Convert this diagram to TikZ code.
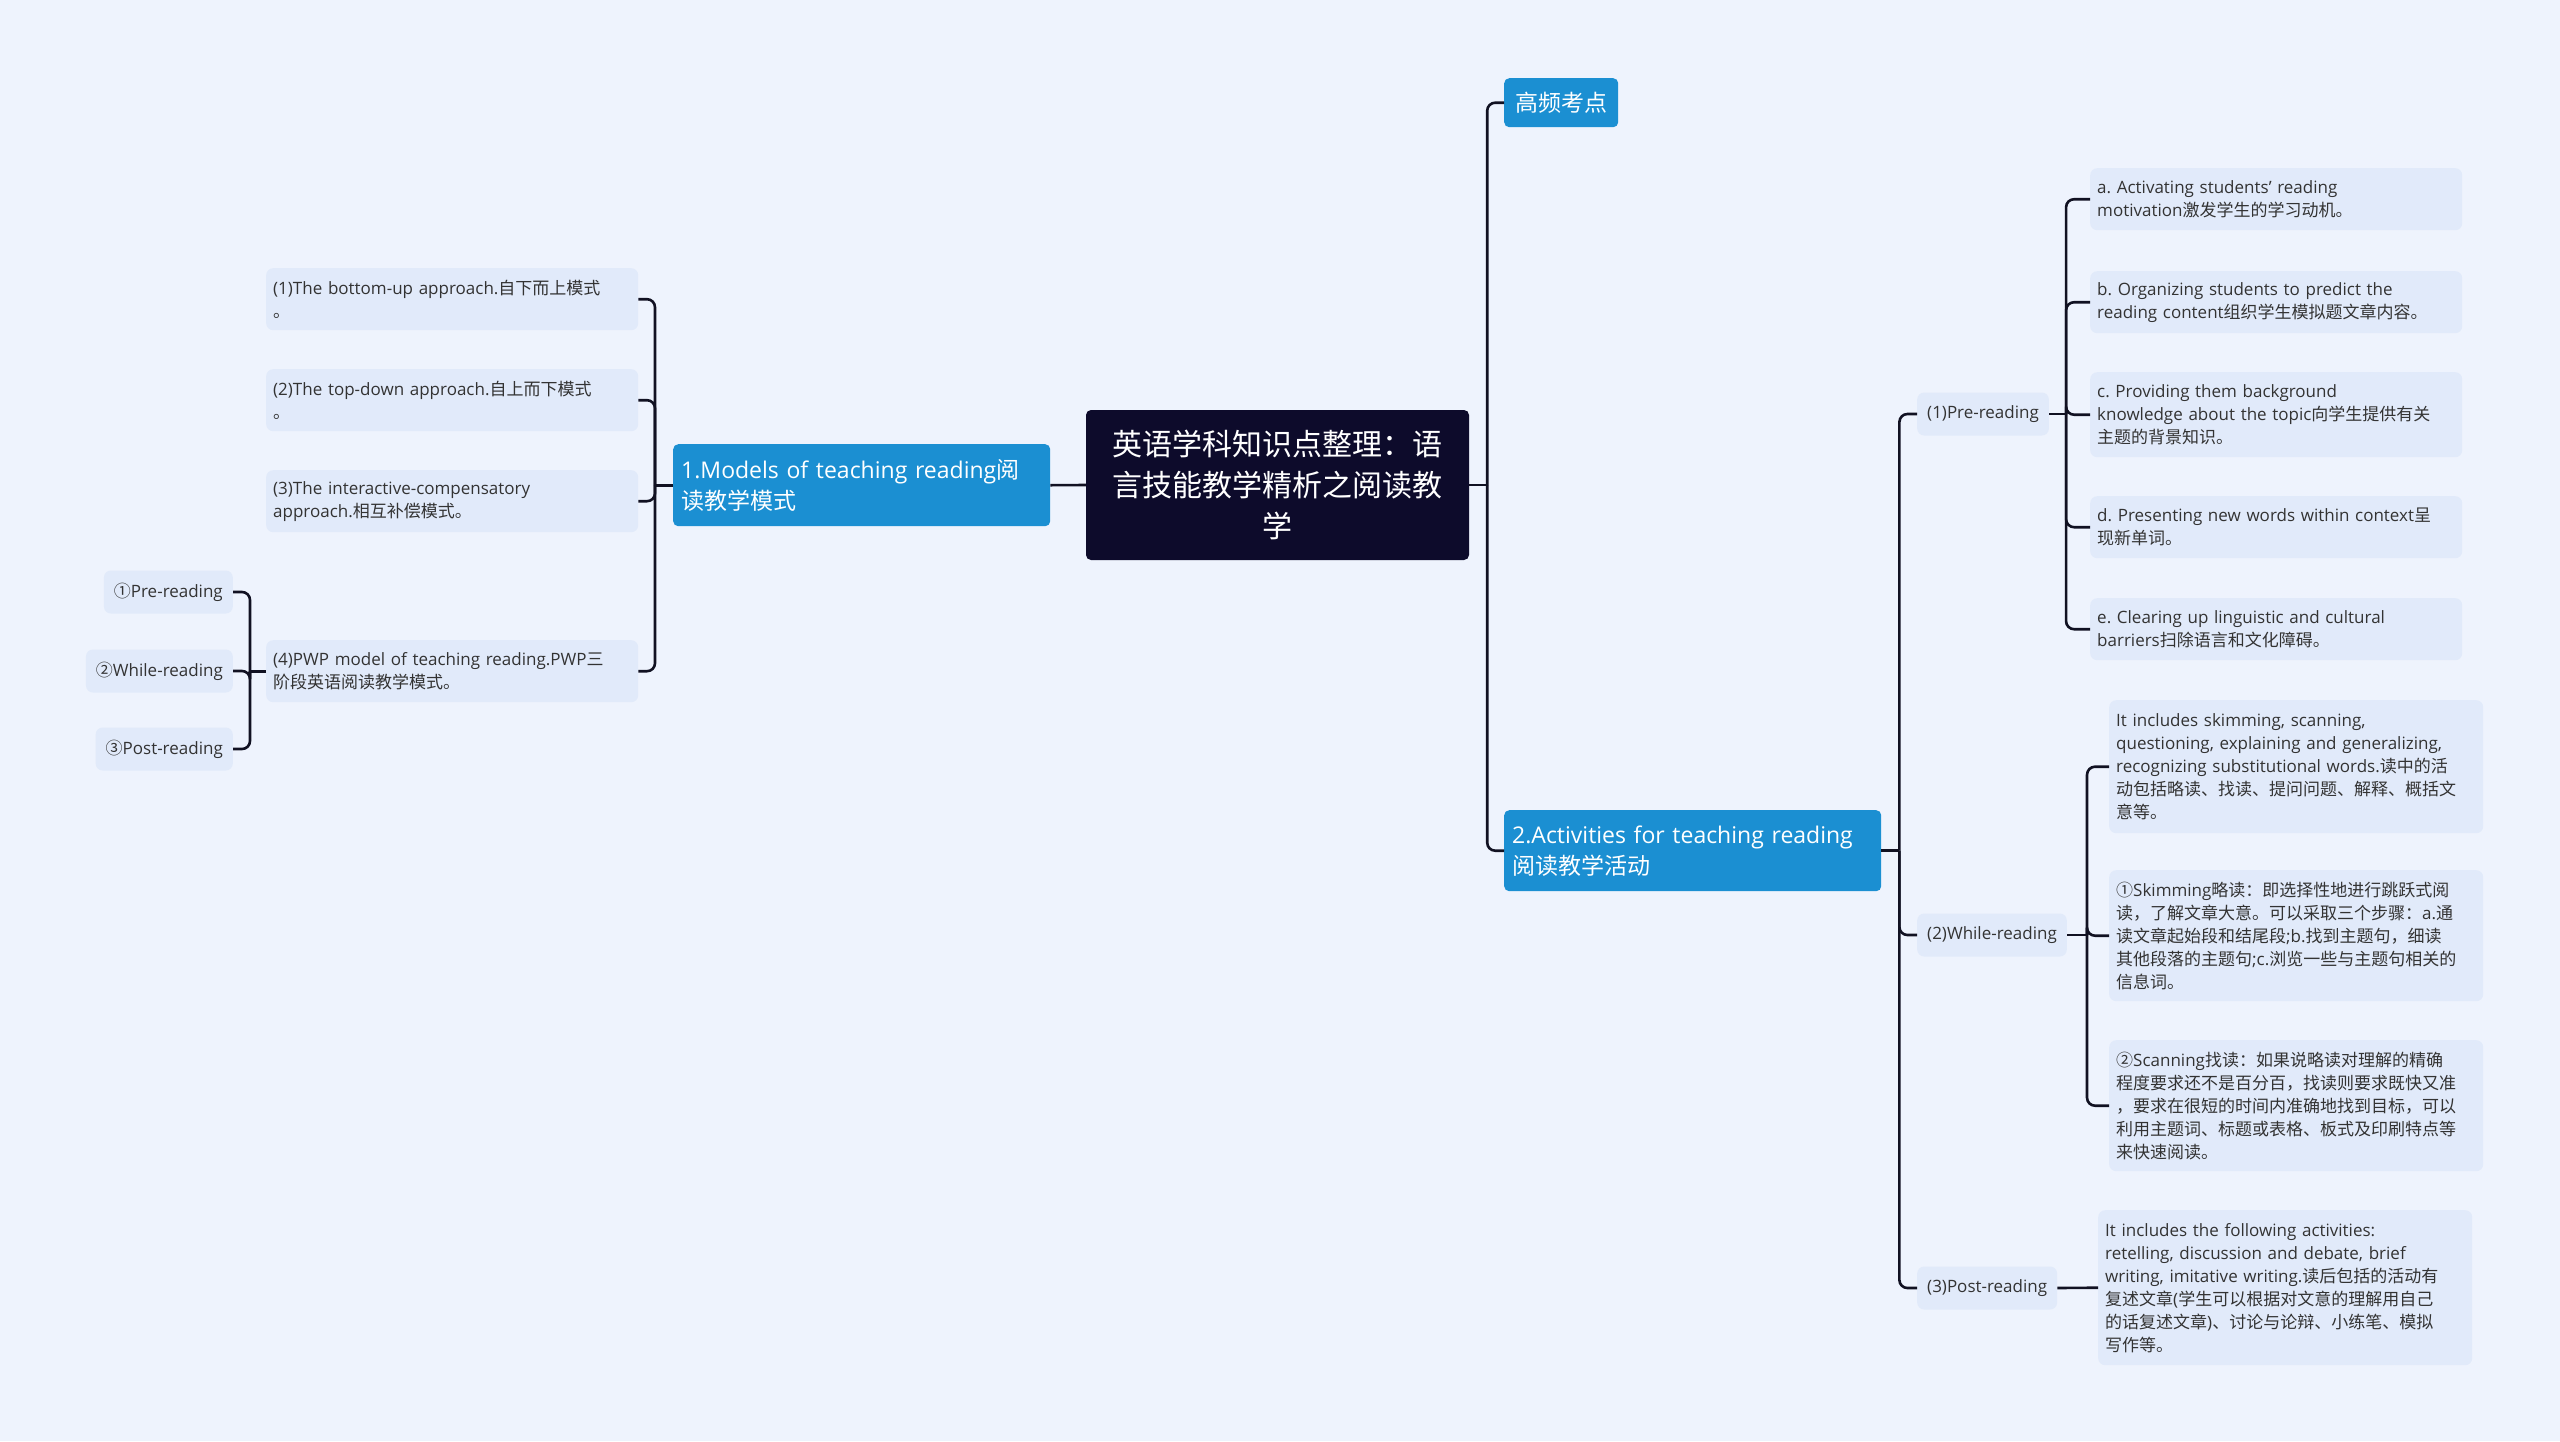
\documentclass[tikz,border=0pt]{standalone}
\usepackage{fontspec}
\setmainfont{Open Sans}[Scale=1.0]
\newfontfamily\cjkfont{Noto Sans CJK SC}
% switch to the CJK font for ideographs, CJK punctuation and circled numbers
\XeTeXinterchartokenstate=1
\newXeTeXintercharclass\cjkclass
\newcount\cjkc
\cjkc="2460 \loop\ifnum\cjkc<"2500 \XeTeXcharclass\cjkc=\cjkclass \advance\cjkc 1 \repeat
\cjkc="3000 \loop\ifnum\cjkc<"A000 \XeTeXcharclass\cjkc=\cjkclass \advance\cjkc 1 \repeat
\cjkc="FF00 \loop\ifnum\cjkc<"FFF0 \XeTeXcharclass\cjkc=\cjkclass \advance\cjkc 1 \repeat
\XeTeXinterchartoks 0 \cjkclass={\begingroup\cjkfont}
\XeTeXinterchartoks 4095 \cjkclass={\begingroup\cjkfont}
\XeTeXinterchartoks \cjkclass 0={\endgroup}
\XeTeXinterchartoks \cjkclass 4095={\endgroup}
\frenchspacing
\hyphenpenalty=10000
\exhyphenpenalty=10000
\usepackage{tikz}
\usepackage{xcolor}
\definecolor{bgcol}{HTML}{EEF3FD}
\definecolor{leafcol}{HTML}{E1EAFA}
\definecolor{topiccol}{HTML}{1B8FD2}
\definecolor{rootcol}{HTML}{0D0B2B}
\definecolor{linecol}{HTML}{111122}
\definecolor{txtcol}{HTML}{333333}
\tikzset{
  rootbox/.style={fill=rootcol, text=white, rounded corners=5pt, align=center, inner sep=0pt, minimum width=383pt, minimum height=150pt, font=\fontsize{30pt}{41pt}\selectfont},
  topicbox/.style={fill=topiccol, text=white, rounded corners=5pt, align=left, inner xsep=8pt, inner ysep=0pt, minimum height=49pt, anchor=north west, font=\fontsize{23pt}{31pt}\selectfont},
  leafbox/.style={fill=leafcol, text=txtcol, rounded corners=7pt, align=left, inner xsep=7pt, inner ysep=0pt, anchor=north west, font=\fontsize{17pt}{23pt}\selectfont},
  tagbox/.style={fill=leafcol, text=txtcol, rounded corners=7pt, inner xsep=10pt, inner ysep=0pt, minimum height=43pt, font=\fontsize{17pt}{23pt}\selectfont},
  link/.style={draw=linecol, line width=2.6pt, rounded corners=8pt}
}

\begin{document}
\begin{tikzpicture}[x=1pt, y=-1pt]
% background
\fill[bgcol] (0,0) rectangle (2560,1441);
% centre
\node[rootbox] (root) at (1277.5,485) {英语学科知识点整理：语\\言技能教学精析之阅读教\\学};
\node[topicbox, text width=361pt, minimum height=82pt] (models) at (673,444) {1.Models of teaching reading阅\\读教学模式};
\node[topicbox, inner xsep=11pt] (hot) at (1504,78) {高频考点};
\node[topicbox, text width=361pt, minimum height=81pt] (acts) at (1504,810) {2.Activities for teaching reading\\阅读教学活动};
% left branch
\node[leafbox, text width=358pt, minimum height=62pt] (bottomup) at (266,268) {(1)The bottom-up approach.自下而上模式\\。};
\node[leafbox, text width=358pt, minimum height=62pt] (topdown) at (266,369) {(2)The top-down approach.自上而下模式\\。};
\node[leafbox, text width=358pt, minimum height=62pt] (interact) at (266,470) {(3)The interactive-compensatory\\approach.相互补偿模式。};
\node[leafbox, text width=358pt, minimum height=62pt] (pwp) at (266,640) {(4)PWP model of teaching reading.PWP三\\阶段英语阅读教学模式。};
\node[tagbox, anchor=east] (pwppre) at (233,592) {①Pre-reading};
\node[tagbox, anchor=east] (pwpwhile) at (233,671) {②While-reading};
\node[tagbox, anchor=east] (pwppost) at (233,749) {③Post-reading};
% right branch
\node[tagbox, anchor=west] (pre) at (1917,414) {(1)Pre-reading};
\node[tagbox, anchor=west] (while) at (1917,935) {(2)While-reading};
\node[tagbox, anchor=west] (post) at (1917,1288) {(3)Post-reading};
\node[leafbox, text width=358pt, minimum height=62pt] (prea) at (2090,168) {a. Activating students' reading\\motivation激发学生的学习动机。};
\node[leafbox, text width=358pt, minimum height=62pt] (preb) at (2090,271) {b. Organizing students to predict the\\reading content组织学生模拟题文章内容。};
\node[leafbox, text width=358pt, minimum height=85pt] (prec) at (2090,372) {c. Providing them background\\knowledge about the topic向学生提供有关\\主题的背景知识。};
\node[leafbox, text width=358pt, minimum height=62pt] (pred) at (2090,496) {d. Presenting new words within context呈\\现新单词。};
\node[leafbox, text width=358pt, minimum height=62pt] (pree) at (2090,598) {e. Clearing up linguistic and cultural\\barriers扫除语言和文化障碍。};
\node[leafbox, text width=360pt, minimum height=133pt] (whilea) at (2109,700) {It includes skimming, scanning,\\questioning, explaining and generalizing,\\recognizing substitutional words.读中的活\\动包括略读、找读、提问问题、解释、概括文\\意等。};
\node[leafbox, text width=360pt, minimum height=131pt] (whileb) at (2109,870) {①Skimming略读：即选择性地进行跳跃式阅\\读，了解文章大意。可以采取三个步骤：a.通\\读文章起始段和结尾段;b.找到主题句，细读\\其他段落的主题句;c.浏览一些与主题句相关的\\信息词。};
\node[leafbox, text width=360pt, minimum height=131pt] (whilec) at (2109,1040) {②Scanning找读：如果说略读对理解的精确\\程度要求还不是百分百，找读则要求既快又准\\，要求在很短的时间内准确地找到目标，可以\\利用主题词、标题或表格、板式及印刷特点等\\来快速阅读。};
\node[leafbox, text width=360pt, minimum height=155pt] (posta) at (2098,1210) {It includes the following activities:\\retelling, discussion and debate, brief\\writing, imitative writing.读后包括的活动有\\复述文章(学生可以根据对文意的理解用自己\\的话复述文章)、讨论与论辩、小练笔、模拟\\写作等。};
% junctions
\coordinate (rootj) at ([xshift=18pt]root.east);
\coordinate (modelsj) at ([xshift=-18pt]models.west);
\coordinate (pwpj) at ([xshift=-16pt]pwp.west);
\coordinate (actsj) at ([xshift=18pt]acts.east);
\coordinate (prej) at ([xshift=17pt]pre.east);
\coordinate (whilej) at ([xshift=20pt]while.east);
% connectors
\draw[link] (models.east) -- (root.west);
\draw[link] (root.east) -- (rootj);
\draw[link] (rootj) |- (hot.west);
\draw[link] (rootj) |- (acts.west);
\draw[link] (models.west) -- (modelsj);
\draw[link] (modelsj) |- (bottomup.east);
\draw[link] (modelsj) |- (topdown.east);
\draw[link] (modelsj) |- (interact.east);
\draw[link] (modelsj) |- (pwp.east);
\draw[link] (pwp.west) -- (pwpj);
\draw[link] (pwpj) |- (pwppre.east);
\draw[link] (pwpj) |- (pwpwhile.east);
\draw[link] (pwpj) |- (pwppost.east);
\draw[link] (acts.east) -- (actsj);
\draw[link] (actsj) |- (pre.west);
\draw[link] (actsj) |- (while.west);
\draw[link] (actsj) |- (post.west);
\draw[link] (pre.east) -- (prej);
\draw[link] (prej) |- (prea.west);
\draw[link] (prej) |- (preb.west);
\draw[link] (prej) |- (prec.west);
\draw[link] (prej) |- (pred.west);
\draw[link] (prej) |- (pree.west);
\draw[link] (while.east) -- (whilej);
\draw[link] (whilej) |- (whilea.west);
\draw[link] (whilej) |- (whileb.west);
\draw[link] (whilej) |- (whilec.west);
\draw[link] (post.east) -- (posta.west);
\end{tikzpicture}
\end{document}
